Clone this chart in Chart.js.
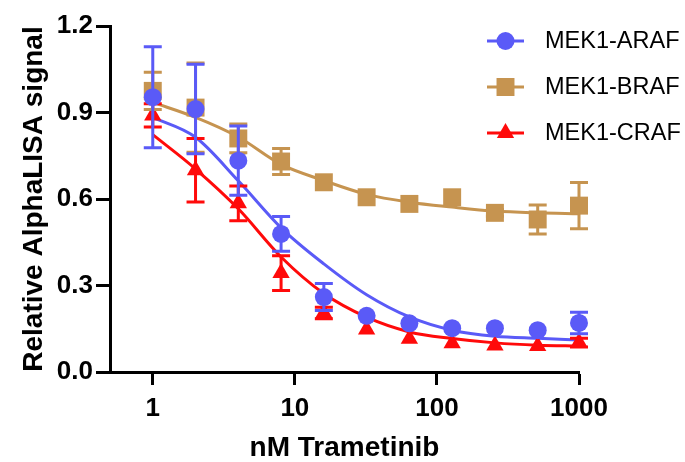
<!DOCTYPE html>
<html>
<head>
<meta charset="utf-8">
<script src="https://cdn.jsdelivr.net/npm/chart.js@4.4.0/dist/chart.umd.min.js"></script>
<style>
    html, body { margin: 0; padding: 0; background: #fff; }
</style>
</head>
<body>
<canvas id="curva" width="685" height="462"></canvas>
<script>
// concentraciones (nM)
var doses = [1, 2, 4, 8, 16, 32, 64, 128, 256, 512, 1000];

var araf = [0.953, 0.912, 0.733, 0.479, 0.26, 0.195, 0.169, 0.152, 0.152, 0.145, 0.17];
var arafErr = [0.175, 0.155, 0.12, 0.06, 0.047, 0, 0, 0, 0, 0, 0.037];
var braf = [0.975, 0.917, 0.81, 0.73, 0.658, 0.606, 0.583, 0.606, 0.552, 0.529, 0.577];
var brafErr = [0.065, 0.155, 0.05, 0.045, 0, 0, 0, 0, 0.012, 0.05, 0.08];
var craf = [0.89, 0.70, 0.585, 0.343, 0.205, 0.147, 0.115, 0.1, 0.092, 0.09, 0.102];
var crafErr = [0.04, 0.11, 0.06, 0.06, 0.02, 0, 0, 0, 0, 0, 0.015];

// curvas ajustadas
var arafFit = [0.883, 0.814, 0.663, 0.50, 0.375, 0.268, 0.191, 0.145, 0.124, 0.117, 0.111];
var brafFit = [0.935, 0.883, 0.815, 0.72, 0.664, 0.616, 0.589, 0.572, 0.558, 0.552, 0.549];
var crafFit = [0.823, 0.704, 0.566, 0.399, 0.272, 0.19, 0.139, 0.116, 0.101, 0.093, 0.09];

var xTicks = [1, 10, 100, 1000];
var xTickLabels = ['1', '10', '100', '1000'];
var yTicks = [0, 0.3, 0.6, 0.9, 1.2];
var yTickLabels = ['0.0', '0.3', '0.6', '0.9', '1.2'];

var azul = '#5A5AF7';
var marron = '#C69450';
var rojo = '#FF0A0A';

function puntos(vals) {
    return doses.map(function (d, i) { return { x: d, y: vals[i] }; });
}

function serie(label, vals, errs, color, estilo, radio) {
    return {
        label: label,
        data: puntos(vals),
        errores: errs,
        enLeyenda: true,
        showLine: false,
        backgroundColor: color,
        borderColor: color,
        pointStyle: estilo,
        pointRadius: radio,
        pointHoverRadius: radio,
        pointBorderWidth: 0,
        clip: false
    };
}

function ajuste(vals, color) {
    return {
        data: puntos(vals),
        borderColor: color,
        borderWidth: 3,
        pointRadius: 0,
        fill: false,
        cubicInterpolationMode: 'monotone',
        clip: false
    };
}

var barrasError = {
    id: 'barrasError',
    beforeDatasetDraw: function (chart, args) {
        var ds = chart.data.datasets[args.index];
        if (!ds.errores) return;
        var sx = chart.scales.x, sy = chart.scales.y, ctx = chart.ctx;
        ctx.save();
        ctx.strokeStyle = ds.borderColor;
        ctx.lineWidth = 3;
        ds.data.forEach(function (p, i) {
            var e = ds.errores[i];
            if (!e) return;
            var px = sx.getPixelForValue(p.x);
            var arriba = sy.getPixelForValue(p.y + e);
            var abajo = sy.getPixelForValue(p.y - e);
            ctx.beginPath();
            ctx.moveTo(px, arriba); ctx.lineTo(px, abajo);
            ctx.moveTo(px - 9, arriba); ctx.lineTo(px + 9, arriba);
            ctx.moveTo(px - 9, abajo); ctx.lineTo(px + 9, abajo);
            ctx.stroke();
        });
        ctx.restore();
    }
};

var leyenda = {
    id: 'leyenda',
    afterDraw: function (chart) {
        var ctx = chart.ctx;
        chart.data.datasets.forEach(function (ds, i) {
            if (!ds.enLeyenda) return;
            var yy = 41 + i * 46;
            ctx.save();
            ctx.strokeStyle = ds.borderColor;
            ctx.lineWidth = 3;
            ctx.beginPath();
            ctx.moveTo(487, yy); ctx.lineTo(524, yy);
            ctx.stroke();
            ctx.fillStyle = ds.backgroundColor;
            Chart.helpers.drawPoint(ctx, { pointStyle: ds.pointStyle, radius: ds.pointRadius, borderWidth: 0, rotation: 0 }, 505.5, yy);
            ctx.fillStyle = '#000';
            ctx.font = '23.5px "Liberation Sans", Arial, sans-serif';
            ctx.textBaseline = 'middle';
            ctx.textAlign = 'left';
            ctx.fillText(ds.label, 545, yy + 1);
            ctx.restore();
        });
    }
};

var fuenteEje = { family: '"Liberation Sans", Arial, sans-serif', size: 26, weight: 'bold' };
var fuenteTitulo = { family: '"Liberation Sans", Arial, sans-serif', size: 28, weight: 'bold', lineHeight: 1 };

document.addEventListener("DOMContentLoaded", function () {
    var ctx = document.getElementById('curva').getContext('2d');
    var curva = new Chart(ctx, {
        type: 'line',
        data: {
            datasets: [
                serie('MEK1-ARAF', araf, arafErr, azul, 'circle', 9),
                serie('MEK1-BRAF', braf, brafErr, marron, 'rect', 12.7),
                serie('MEK1-CRAF', craf, crafErr, rojo, 'triangle', 10),
                ajuste(arafFit, azul),
                ajuste(brafFit, marron),
                ajuste(crafFit, rojo)
            ]
        },
        options: {
            responsive: false,
            animation: false,
            layout: { padding: { left: 0, right: 106, top: 26, bottom: 0 } },
            plugins: {
                legend: { display: false },
                tooltip: { enabled: false }
            },
            scales: {
                x: {
                    type: 'logarithmic',
                    min: 0.5,
                    max: 1000,
                    afterBuildTicks: function (s) {
                        s.ticks = xTicks.map(function (v) { return { value: v }; });
                    },
                    afterFit: function (s) { s.height = 90; },
                    ticks: {
                        autoSkip: false,
                        maxRotation: 0,
                        padding: 8,
                        color: '#000',
                        font: fuenteEje,
                        callback: function (v, i) { return xTickLabels[i]; }
                    },
                    grid: { drawOnChartArea: false, drawTicks: true, tickLength: 13, tickWidth: 3, tickColor: '#000' },
                    border: { display: true, width: 3, color: '#000' },
                    title: { display: true, text: 'nM Trametinib', color: '#000', font: fuenteTitulo, padding: { top: 0, bottom: 0 } }
                },
                y: {
                    min: 0,
                    max: 1.2,
                    afterBuildTicks: function (s) {
                        s.ticks = yTicks.map(function (v) { return { value: v }; });
                    },
                    afterFit: function (s) { s.width = 110; },
                    ticks: {
                        padding: 3,
                        color: '#000',
                        font: fuenteEje,
                        callback: function (v, i) { return yTickLabels[i]; }
                    },
                    grid: { drawOnChartArea: false, drawTicks: true, tickLength: 14, tickWidth: 3, tickColor: '#000' },
                    border: { display: true, width: 3, color: '#000' },
                    title: { display: true, text: 'Relative AlphaLISA signal', color: '#000', font: fuenteTitulo, padding: { top: 20, bottom: 0 } }
                }
            }
        },
        plugins: [barrasError, leyenda]
    });
});
</script>
</body>
</html>
